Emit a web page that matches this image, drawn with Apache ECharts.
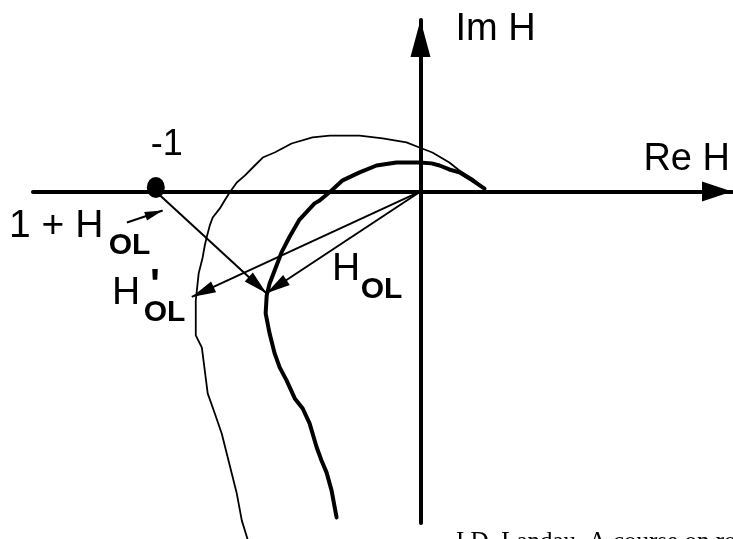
<!DOCTYPE html>
<html>
<head>
<meta charset="utf-8">
<script src="https://cdn.jsdelivr.net/npm/echarts@6/dist/echarts.min.js"></script>
<style>
  html, body { margin: 0; padding: 0; background: #fff; }
  #chart { width: 733px; height: 539px; }
</style>
</head>
<body>
<div id="chart"></div>
<script>
// Nyquist plane of the open-loop transfer function (Re H, Im H)
const reDomain = [-1.464, 1.177];
const imDomain = [-1.251, 0.647];

// H'_OL(jw): perturbed open-loop frequency response (thin locus)
const perturbedRe = [0.242, 0.196, 0.147, 0.109, 0.045, -0.004, -0.053, -0.143, -0.230, -0.343,
  -0.408, -0.487, -0.551, -0.596, -0.626, -0.664, -0.694, -0.721, -0.740, -0.758,
  -0.785, -0.796, -0.808, -0.815, -0.823, -0.838, -0.845, -0.849, -0.849, -0.849,
  -0.826, -0.815, -0.804, -0.777, -0.751, -0.732, -0.713, -0.694, -0.675, -0.653];
const perturbedIm = [0.011, 0.049, 0.079, 0.109, 0.147, 0.166, 0.185, 0.200, 0.211, 0.211,
  0.204, 0.181, 0.147, 0.128, 0.098, 0.060, 0.034, -0.004, -0.034, -0.064,
  -0.098, -0.128, -0.174, -0.204, -0.249, -0.309, -0.374, -0.411, -0.487, -0.543,
  -0.589, -0.675, -0.762, -0.838, -0.913, -0.989, -1.064, -1.140, -1.242, -1.313];

// H_OL(jw): nominal open-loop frequency response (thick locus)
const nominalRe = [0.242, 0.196, 0.147, 0.109, 0.072, 0.042, -0.004, -0.091, -0.166, -0.230,
  -0.294, -0.336, -0.381, -0.400, -0.457, -0.494, -0.525, -0.551, -0.570, -0.581,
  -0.585, -0.570, -0.551, -0.532, -0.506, -0.475, -0.445, -0.419, -0.392, -0.374,
  -0.355, -0.336, -0.317];
const nominalIm = [0.011, 0.042, 0.072, 0.083, 0.098, 0.106, 0.109, 0.109, 0.098, 0.072,
  0.042, 0.004, -0.034, -0.045, -0.106, -0.170, -0.230, -0.298, -0.347, -0.392,
  -0.460, -0.536, -0.611, -0.664, -0.713, -0.781, -0.819, -0.875, -0.966, -1.015,
  -1.060, -1.128, -1.230];

// critical point and the vectors drawn at one frequency
const criticalPoint = [-1, 0];
const origin = [0, 0];
const nominalPoint = [-0.582, -0.384];     // H_OL(jw0)
const perturbedPoint = [-0.864, -0.398];   // H'_OL(jw0)
const pointerFrom = [-1.109, -0.117];      // pointer for the 1 + H_OL note
const pointerTo = [-0.974, -0.072];

const axisNames = ['Re H', 'Im H'];
const footnote = 'I.D. Landau, A course on robust control';

const SANS = '"Liberation Sans", Arial, Helvetica, sans-serif';
const SERIF = '"Liberation Serif", "Times New Roman", serif';

const zip = (xs, ys) => xs.map((x, i) => [x, ys[i]]);

function note(text, x, y, size, bold) {
  const font = (bold ? 'bold ' : '') + size + 'px ' + SANS;
  return {
    type: 'text', x: x, y: y, silent: true,
    style: {
      text: text, font: font, fill: '#000',
      align: 'left', verticalAlign: 'middle',
      textAlign: 'left', textVerticalAlign: 'middle'
    }
  };
}

const chart = echarts.init(document.getElementById('chart'), null, { renderer: 'canvas' });

chart.setOption({
  backgroundColor: '#fff',
  animation: false,
  grid: { left: 33, right: 0, top: 20, bottom: 16, containLabel: false },
  xAxis: {
    type: 'value', min: reDomain[0], max: reDomain[1],
    name: axisNames[0], nameLocation: 'end', nameGap: -2,
    nameTextStyle: {
      fontFamily: SANS, fontSize: 38, color: '#000',
      align: 'right', verticalAlign: 'bottom', padding: [0, 0, 13, 0]
    },
    axisLine: {
      show: true, onZero: true,
      symbol: ['none', 'triangle'], symbolSize: [20, 30], symbolOffset: [0, -15],
      lineStyle: { color: '#000', width: 4 }
    },
    axisTick: { show: false }, axisLabel: { show: false }, splitLine: { show: false }
  },
  yAxis: {
    type: 'value', min: imDomain[0], max: imDomain[1],
    name: axisNames[1], nameLocation: 'end', nameGap: -10,
    nameTextStyle: {
      fontFamily: SANS, fontSize: 38, color: '#000',
      align: 'left', verticalAlign: 'middle', padding: [0, 0, 0, 35]
    },
    axisLine: {
      show: true, onZero: true,
      symbol: ['none', 'triangle'], symbolSize: [20, 37], symbolOffset: [0, -18.5],
      lineStyle: { color: '#000', width: 4 }
    },
    axisTick: { show: false }, axisLabel: { show: false }, splitLine: { show: false }
  },
  series: [
    {
      name: "H'_OL", type: 'line', data: zip(perturbedRe, perturbedIm),
      showSymbol: false, symbol: 'none', clip: false, smooth: false, silent: true,
      lineStyle: { color: '#000', width: 1.8, cap: 'round', join: 'round' }
    },
    {
      name: 'H_OL', type: 'line', data: zip(nominalRe, nominalIm),
      showSymbol: false, symbol: 'none', clip: false, smooth: false, silent: true,
      lineStyle: { color: '#000', width: 4, cap: 'round', join: 'round' }
    },
    {
      name: 'critical point', type: 'scatter', data: [criticalPoint],
      symbol: 'circle', symbolSize: [18, 21], symbolOffset: [0, -4], silent: true,
      itemStyle: { color: '#000', opacity: 1 },
      label: {
        show: true, position: 'top', distance: 14, offset: [11, 0],
        formatter: p => String(p.value[0]),
        fontFamily: SANS, fontSize: 36, color: '#000', opacity: 1
      },
      markLine: {
        silent: true, animation: false,
        symbol: ['none', 'triangle'], symbolSize: [12, 24], symbolOffset: [0, [0, 12]],
        label: { show: false },
        lineStyle: { color: '#000', width: 2, type: 'solid', opacity: 1 },
        itemStyle: { color: '#000', opacity: 1 },
        emphasis: { disabled: true },
        data: [
          [{ coord: origin }, { coord: nominalPoint }],
          [{ coord: origin }, { coord: perturbedPoint }],
          [{ coord: criticalPoint }, { coord: nominalPoint }],
          [{ coord: pointerFrom }, { coord: pointerTo, symbolSize: [9, 18], symbolOffset: [0, 9] }]
        ]
      }
    }
  ],
  graphic: [
    note('1 + H', 9, 226.5, 39, false),
    note('OL', 108.7, 246, 30, true),
    note('H', 112, 293.5, 39, false),
    note("'", 150, 286, 42, true),
    note('OL', 143.7, 313, 30, true),
    note('H', 332, 269.5, 39, false),
    note('OL', 360.7, 290, 30, true),
    {
      type: 'text', x: 456, y: 542, silent: true,
      style: {
        text: footnote, font: '25px ' + SERIF, fill: '#000',
        align: 'left', verticalAlign: 'middle', textAlign: 'left', textVerticalAlign: 'middle'
      }
    }
  ]
});
</script>
</body>
</html>
